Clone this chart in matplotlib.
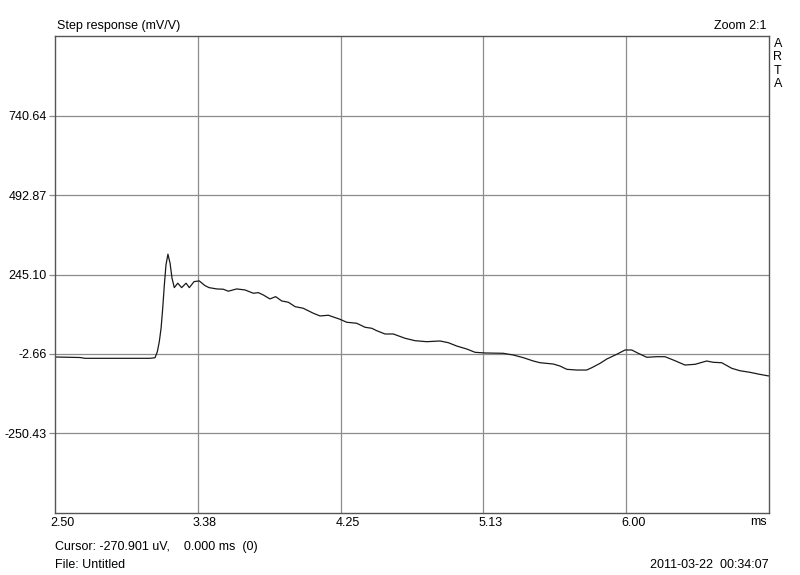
import matplotlib
matplotlib.use("Agg")
import matplotlib.pyplot as plt
from matplotlib.transforms import offset_copy, blended_transform_factory

# step response (ms, mV/V)
time_ms = [2.500, 2.653, 2.684, 3.082, 3.113, 3.127, 3.139, 3.150, 3.160, 3.170,
           3.180, 3.192, 3.205, 3.217, 3.231, 3.252, 3.276, 3.303, 3.323, 3.352,
           3.384, 3.419, 3.444,
           3.491, 3.531, 3.562, 3.613, 3.664, 3.715, 3.746, 3.776, 3.817, 3.852,
           3.889, 3.930, 3.971, 4.021, 4.083, 4.124, 4.175, 4.246, 4.287, 4.349,
           4.400, 4.441, 4.471, 4.522, 4.573, 4.645, 4.706, 4.778, 4.859, 4.910,
           4.961, 5.023, 5.074, 5.135, 5.247, 5.308, 5.370, 5.431, 5.472, 5.553,
           5.594, 5.636, 5.697, 5.758, 5.789, 5.840, 5.881, 5.942, 5.993, 6.034,
           6.074, 6.126, 6.187, 6.238, 6.299, 6.360, 6.422, 6.493, 6.534, 6.585,
           6.647, 6.697, 6.759, 6.809, 6.865, 6.875]
response = [-12.0, -13.6, -16.1, -16.1, -14.2, 4.5, 35.7, 77.5, 140.0, 212.6,
            275.0, 308.4, 280.3, 233.5, 204.2, 218.0, 204.2, 218.0, 204.2, 222.9,
            225.1, 210.4, 204.2,
            200.1, 199.2, 193.0, 200.1, 197.0, 186.7, 188.6, 181.4, 169.0, 176.1,
            162.7, 158.6, 144.9, 139.9, 124.3, 115.9, 118.1, 105.6, 96.3, 93.1,
            80.6, 77.5, 70.0, 59.7, 59.7, 46.3, 38.8, 35.7, 37.9, 32.6,
            22.3, 12.9, 2.6, 0.5, -0.5, -5.8, -14.2, -24.5, -29.8, -33.9,
            -40.1, -50.4, -52.6, -52.6, -45.4, -31.7, -18.3, -3.6, 9.8, 9.8,
            -0.5, -12.9, -11.1, -11.1, -23.6, -37.0, -34.8, -24.5, -28.6, -29.8,
            -47.3, -54.8, -59.8, -65.1, -70.4, -71.0]

x_ticks = [2.50, 3.375, 4.25, 5.125, 6.00]
x_labels = ["2.50", "3.38", "4.25", "5.13", "6.00"]
y_ticks = [-250.43, -2.66, 245.10, 492.87, 740.64]
y_labels = ["-250.43", "-2.66", "245.10", "492.87", "740.64"]
x_range = (2.50, 6.875)
y_range = (-498.20, 988.41)

plt.rcParams["font.family"] = ["Liberation Sans", "DejaVu Sans"]
FS = 9

fig = plt.figure(figsize=(8, 5.75), dpi=100)
ax = fig.add_axes([55 / 800, 1 - 513 / 575, 714 / 800, 477 / 575])
ax.plot(time_ms, response, color="#1a1a1a", lw=0.9)
ax.set_xlim(*x_range)
ax.set_ylim(*y_range)

for xv in x_ticks[1:]:
    ax.axvline(xv, color="#8c8c8c", lw=0.9, zorder=0)
for yv in y_ticks:
    ax.axhline(yv, color="#8c8c8c", lw=0.9, zorder=0)

ax.set_xticks([])
ax.set_yticks(y_ticks)
ax.set_yticklabels(y_labels, fontsize=FS)
ax.tick_params(axis="y", length=4, width=0.9, color="#8c8c8c", pad=2)
for s in ax.spines.values():
    s.set_color("#555555")
    s.set_linewidth(1.0)

# x labels sit slightly left of their grid line, like ARTA does
bt = blended_transform_factory(ax.transData, ax.transAxes)
lt = offset_copy(bt, fig=fig, x=-5, y=-10, units="dots")
for xv, lab in zip(x_ticks, x_labels):
    ax.text(xv, 0, lab, transform=lt, ha="left", va="center", fontsize=FS)
fig.text(767 / 800, 1 - 522 / 575, "ms", ha="right", va="center", fontsize=FS)

fig.text(57 / 800, 1 - 26 / 575, "Step response (mV/V)", ha="left", va="center", fontsize=FS)
fig.text(767 / 800, 1 - 26 / 575, "Zoom 2:1", ha="right", va="center", fontsize=FS)
fig.text(778 / 800, 1 - 38 / 575, "A\nR\nT\nA", ha="center", va="top", fontsize=FS,
         linespacing=1.15)

fig.text(55 / 800, 1 - 547 / 575, "Cursor: -270.901 uV,    0.000 ms  (0)",
         ha="left", va="center", fontsize=FS)
fig.text(55 / 800, 1 - 565 / 575, "File: Untitled", ha="left", va="center", fontsize=FS)
fig.text(769 / 800, 1 - 565 / 575, "2011-03-22  00:34:07", ha="right", va="center",
         fontsize=FS)

fig.savefig("out.png", dpi=100, facecolor="white")
